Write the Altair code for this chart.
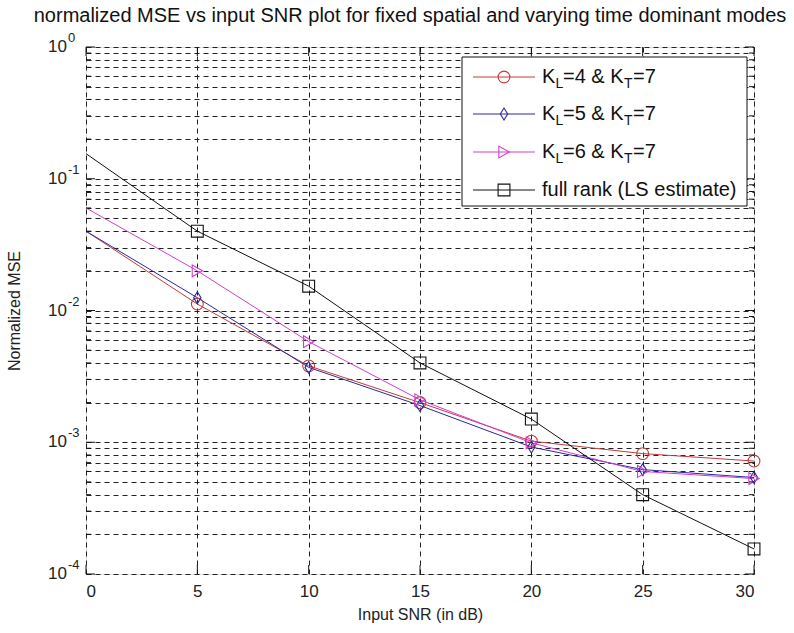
import altair as alt
import pandas as pd

# Input SNR (dB) and normalized MSE for each estimator
snr_db = [0, 5, 10, 15, 20, 25, 30]
mse_kl4 = [0.040, 0.0112, 0.0038, 0.0020, 0.00102, 0.00082, 0.00072]
mse_kl5 = [0.040, 0.0125, 0.0037, 0.0019, 0.00092, 0.00062, 0.00054]
mse_kl6 = [0.060, 0.0200, 0.0058, 0.0021, 0.00099, 0.00060, 0.00053]
mse_full = [0.155, 0.040, 0.0153, 0.0040, 0.00150, 0.00040, 0.000155]

series_keys = ["kl4", "kl5", "kl6", "full"]
series_colors = ["#c23b3b", "#2a2a9c", "#cf3fcf", "#111111"]
series_shapes = ["circle", "M0,-1L0.62,0L0,1L-0.62,0Z", "triangle-right", "square"]

# legend text pieces: main text and subscripts
legend_k = ["K", "K", "K", None]
legend_sub1 = ["L", "L", "L", None]
legend_mid = ["=4 & K", "=5 & K", "=6 & K", "full rank (LS estimate)"]
legend_sub2 = ["T", "T", "T", None]
legend_end = ["=7", "=7", "=7", None]

TITLE = "normalized MSE vs input SNR plot for fixed spatial and varying time dominant modes"

x_ticks = [0, 5, 10, 15, 20, 25, 30]
decade_exps = [0, -1, -2, -3, -4]
y_grid = [m * 10.0 ** e for e in range(-4, 0) for m in range(1, 10)] + [1.0]

W, H = 668, 527
FONT = "Liberation Sans"
LEG_FS = 20

rows = []
for key, vals in zip(series_keys, [mse_kl4, mse_kl5, mse_kl6, mse_full]):
    for s, v in zip(snr_db, vals):
        rows.append({"series": key, "snr": s, "mse": v})
df = pd.DataFrame(rows)

xs = alt.Scale(domain=[0, 30], nice=False, zero=False)
ys = alt.Scale(type="log", domain=[1e-4, 1], nice=False)

x_enc = alt.X(
    "snr:Q", scale=xs,
    axis=alt.Axis(values=x_ticks, grid=True, gridDash=[5, 4], gridColor="#222",
                  gridWidth=1, ticks=False, domain=False, labelFontSize=17,
                  labelFont=FONT, labelColor="#222", labelPadding=9,
                  title="Input SNR (in dB)", titleFont=FONT, titleFontSize=16,
                  titleFontWeight="normal", titleColor="#222", titlePadding=7),
)
y_enc = alt.Y(
    "mse:Q", scale=ys,
    axis=alt.Axis(values=y_grid, grid=True, gridDash=[5, 4], gridColor="#222",
                  gridWidth=1, ticks=False, domain=False, labels=False,
                  title="Normalized MSE", titleFont=FONT, titleFontSize=16,
                  titleFontWeight="normal", titleColor="#222", titlePadding=64),
)
color_enc = alt.Color("series:N", scale=alt.Scale(domain=series_keys, range=series_colors), legend=None)
shape_enc = alt.Shape("series:N", scale=alt.Scale(domain=series_keys, range=series_shapes), legend=None)

base = alt.Chart(df)
lines = base.mark_line(strokeWidth=1).encode(x=x_enc, y=y_enc, color=color_enc, detail="series:N")
# markers are drawn from 5 dB onwards
points = base.transform_filter("datum.snr > 0").mark_point(
    size=140, filled=False, strokeWidth=1.1, opacity=1).encode(
    x=alt.X("snr:Q", scale=xs), y=alt.Y("mse:Q", scale=ys), color=color_enc, shape=shape_enc)

# inward tick marks on all four sides
xt = pd.DataFrame({"snr": x_ticks})
xtick_bottom = alt.Chart(xt).mark_rule(color="#111").encode(
    x=alt.X("snr:Q", scale=xs), y=alt.value(H), y2=alt.value(H - 9))
xtick_top = alt.Chart(xt).mark_rule(color="#111").encode(
    x=alt.X("snr:Q", scale=xs), y=alt.value(0), y2=alt.value(9))

major_vals = [10.0 ** e for e in decade_exps]
minor_vals = [v for v in y_grid if all(abs(v - m) > 1e-12 for m in major_vals)]
ymaj = pd.DataFrame({"mse": major_vals})
ymin = pd.DataFrame({"mse": minor_vals})
ytick_layers = []
for d, ln in [(ymaj, 9), (ymin, 5)]:
    ytick_layers.append(alt.Chart(d).mark_rule(color="#111").encode(
        y=alt.Y("mse:Q", scale=ys), x=alt.value(0), x2=alt.value(ln)))
    ytick_layers.append(alt.Chart(d).mark_rule(color="#111").encode(
        y=alt.Y("mse:Q", scale=ys), x=alt.value(W - ln), x2=alt.value(W)))

# decade labels written as 10 with a raised exponent
lab = pd.DataFrame({"mse": major_vals, "exp": [str(e) for e in decade_exps]})
lab_base = alt.Chart(lab).mark_text(align="right", baseline="middle", font=FONT, fontSize=17,
                                    color="#222").encode(
    y=alt.Y("mse:Q", scale=ys), x=alt.value(-19), text=alt.value("10"))
lab_exp = alt.Chart(lab).mark_text(align="left", baseline="middle", font=FONT, fontSize=13,
                                   color="#222", dy=-9).encode(
    y=alt.Y("mse:Q", scale=ys), x=alt.value(-18), text="exp:N")

# chart heading
heading = alt.Chart(pd.DataFrame({"t": [TITLE]})).mark_text(
    align="center", baseline="alphabetic", font=FONT, fontSize=20, color="#111").encode(
    x=alt.value(W / 2 - 10), y=alt.value(-25), text="t:N")

# legend box
LX0, LX1, LY0, LY1 = 376, 661, 10, 159
row_y = [30, 67, 105, 143]
leg = pd.DataFrame({
    "series": series_keys, "ry": row_y,
    "k": legend_k, "s1": legend_sub1, "mid": legend_mid, "s2": legend_sub2, "end": legend_end,
})
box = alt.Chart(pd.DataFrame({"a": [0]})).mark_rect(fill="white", stroke="#111", strokeWidth=1).encode(
    x=alt.value(LX0), x2=alt.value(LX1), y=alt.value(LY0), y2=alt.value(LY1))
leg_line = alt.Chart(leg).mark_rule(strokeWidth=1).encode(
    x=alt.value(387), x2=alt.value(449), y=alt.Y("ry:Q", scale=None), color=color_enc)
leg_pt = alt.Chart(leg).mark_point(size=140, filled=False, strokeWidth=1.1, opacity=1).encode(
    x=alt.value(418), y=alt.Y("ry:Q", scale=None), color=color_enc, shape=shape_enc)


def leg_text(field, xpos, size, dy, cond):
    return alt.Chart(leg).transform_filter(cond).mark_text(
        align="left", baseline="middle", font=FONT, fontSize=size, color="#111", dy=dy).encode(
        x=alt.value(xpos), y=alt.Y("ry:Q", scale=None), text=f"{field}:N")


leg_texts = [
    leg_text("mid", 456, LEG_FS, 0, "datum.k == null"),
    leg_text("k", 456, LEG_FS, 0, "datum.k != null"),
    leg_text("s1", 469.5, 14, 7, "datum.k != null"),
    leg_text("mid", 477, LEG_FS, 0, "datum.k != null"),
    leg_text("s2", 538, 14, 7, "datum.k != null"),
    leg_text("end", 547, LEG_FS, 0, "datum.k != null"),
]

chart = alt.layer(
    lines, points, xtick_bottom, xtick_top, *ytick_layers, lab_base, lab_exp, heading,
    box, leg_line, leg_pt, *leg_texts,
).properties(
    width=W, height=H,
    autosize=alt.AutoSizeParams(type="none"),
    padding={"left": 86, "top": 47, "right": 40, "bottom": 59},
).configure_view(stroke="#111", strokeWidth=1).configure(background="white")

chart.save("out.html", embed_options={"renderer": "svg", "actions": False})
